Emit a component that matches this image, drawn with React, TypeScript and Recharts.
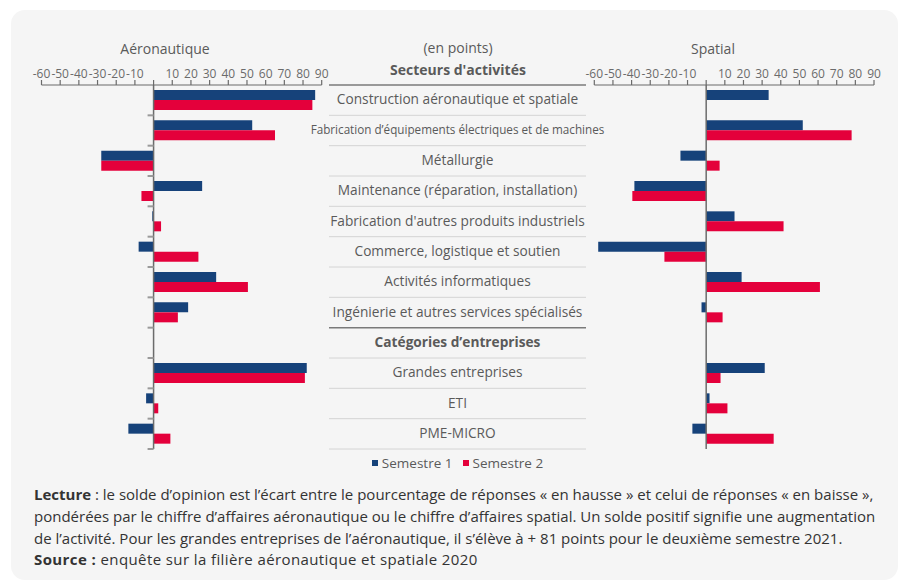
import React from 'react';
import { BarChart, Bar, XAxis, YAxis, ReferenceLine } from 'recharts';

const categories = [
  'Construction aéronautique et spatiale',
  'Fabrication d’équipements électriques et de machines',
  'Métallurgie',
  'Maintenance (réparation, installation)',
  "Fabrication d'autres produits industriels",
  'Commerce, logistique et soutien',
  'Activités informatiques',
  'Ingénierie et autres services spécialisés',
  'Catégories d’entreprises',
  'Grandes entreprises',
  'ETI',
  'PME-MICRO',
];
const headerRow = 'Catégories d’entreprises';

// soldes d'opinion (en points), null = ligne de titre
const aeroS1 = [86.5, 52.8, -28, 26, -0.7, -8, 33.5, 18.5, null, 82, -4, -13.5];
const aeroS2 = [85, 65, -28, -6.5, 4, 24, 50.5, 13, null, 81, 2.5, 9];
const spatialS1 = [33.5, 51.8, -13.8, -38.5, 15.2, -57.9, 19, -2.5, null, 31.4, 1.8, -7.4];
const spatialS2 = [0, 78, 7.2, -39.6, 41.5, -22.4, 61, 8.8, null, 7.7, 11.4, 36.2];

const xTicks = [-60, -50, -40, -30, -20, -10, 0, 10, 20, 30, 40, 50, 60, 70, 80, 90];
const xDomain = [-60, 90];

const series = [
  { key: 's1', name: 'Semestre 1', color: '#16427a' },
  { key: 's2', name: 'Semestre 2', color: '#e4003b' },
];

const FONT = '"Open Sans", "Noto Sans", sans-serif';
const TEXT = '#5a5a5a';
const AXIS = '#6b6b6b';

// geometry
const CH = 470;
const PLOT_TOP = 85;
const PLOT_BOTTOM = 449;
const X_AXIS_H = 30;
const BAND = (PLOT_BOTTOM - PLOT_TOP) / categories.length;
const COL_LEFT = 329;
const COL_RIGHT = 586;

const left = { x0: 41.5, x1: 321.7 };
const right = { offset: 560, x0: 594.3 - 560, x1: 874 - 560, w: 341 };
const zeroOf = (x0: number, x1: number) => x0 + ((0 - xDomain[0]) / (xDomain[1] - xDomain[0])) * (x1 - x0);

const build = (a: (number | null)[], b: (number | null)[]) =>
  categories.map((name, i) => ({ name, s1: a[i], s2: b[i] }));

const aeroData = build(aeroS1, aeroS2);
const spatialData = build(spatialS1, spatialS2);

const fmt = (v: number) => (v === 0 ? '' : String(v));

const BandMark = ({ y, zx }: { y: number; zx: number }) => (
  <line x1={zx - 6} x2={zx} y1={y + BAND / 2} y2={y + BAND / 2} stroke="#9a9a9a" strokeWidth={2} />
);

const CenterTick = (props: any) => {
  const { y, payload, index } = props;
  const label: string = payload.value;
  const isHeader = label === headerRow;
  const beforeHeader = categories[index + 1] === headerRow;
  const long = label.length > 45;
  const zx = zeroOf(left.x0, left.x1);
  return (
    <g>
      <BandMark y={y} zx={zx} />
      {index === 0 && (
        <line x1={COL_LEFT} x2={COL_RIGHT} y1={y - BAND / 2} y2={y - BAND / 2} stroke="#7a7a7a" strokeWidth={1.5} />
      )}
      <line
        x1={COL_LEFT}
        x2={COL_RIGHT}
        y1={y + BAND / 2}
        y2={y + BAND / 2}
        stroke={beforeHeader ? '#7a7a7a' : '#d4d4d4'}
        strokeWidth={beforeHeader ? 1.5 : 1}
      />
      <text
        x={(COL_LEFT + COL_RIGHT) / 2}
        y={y - 0.5}
        dy="0.35em"
        textAnchor="middle"
        fill={TEXT}
        fontFamily={FONT}
        fontSize={long ? 11.7 : 13.7}
        fontWeight={isHeader ? 700 : 400}
      >
        {label}
      </text>
    </g>
  );
};

const SpatialTick = (props: any) => {
  const { y } = props;
  return <BandMark y={y} zx={zeroOf(right.x0, right.x1)} />;
};

const xAxisProps = {
  type: 'number' as const,
  orientation: 'top' as const,
  domain: xDomain,
  ticks: xTicks,
  interval: 0 as const,
  height: X_AXIS_H,
  tickFormatter: fmt,
  tick: { fontSize: 12, fill: AXIS, fontFamily: FONT },
  axisLine: { stroke: AXIS, strokeWidth: 1.2 },
  tickLine: { stroke: AXIS, strokeWidth: 1.2 },
  tickSize: 5,
  tickMargin: 2,
};

const bars = () =>
  series.map((s) => (
    <Bar key={s.key} dataKey={s.key} name={s.name} fill={s.color} barSize={10} isAnimationActive={false} />
  ));

const absText = (x: number, y: number, text: string, size: number, bold = false) => (
  <div
    style={{
      position: 'absolute',
      left: x - 150,
      top: y - size * 0.7,
      width: 300,
      textAlign: 'center',
      fontSize: size,
      fontWeight: bold ? 700 : 400,
      color: TEXT,
      lineHeight: `${size * 1.4}px`,
      whiteSpace: 'nowrap',
    }}
  >
    {text}
  </div>
);

export default function App() {
  return (
    <div style={{ position: 'absolute', left: 0, top: 0, width: 901, height: 581, background: '#fff', fontFamily: FONT, overflow: 'hidden' }}>
      <div style={{ position: 'absolute', left: 11, top: 10, width: 887, height: 570, background: '#f5f5f5', borderRadius: 14 }} />

      {absText(165, 49, 'Aéronautique', 14)}
      {absText(713, 49, 'Spatial', 14)}
      {absText(458, 48, '(en points)', 14)}
      {absText(458, 70, "Secteurs d'activités", 14, true)}

      <div style={{ position: 'absolute', left: 0, top: 0 }}>
        <BarChart
          width={901}
          height={CH}
          data={aeroData}
          layout="vertical"
          barGap={0}
          margin={{ top: PLOT_TOP - X_AXIS_H, left: left.x0, right: 901 - COL_RIGHT, bottom: CH - PLOT_BOTTOM }}
        >
          <XAxis {...xAxisProps} />
          <YAxis
            type="category"
            dataKey="name"
            orientation="right"
            width={COL_RIGHT - left.x1}
            axisLine={false}
            tickLine={false}
            interval={0}
            tick={<CenterTick />}
          />
          {bars()}
          <ReferenceLine x={0} stroke={AXIS} strokeWidth={1.5} />
        </BarChart>
      </div>

      <div style={{ position: 'absolute', left: right.offset, top: 0 }}>
        <BarChart
          width={right.w}
          height={CH}
          data={spatialData}
          layout="vertical"
          barGap={0}
          margin={{ top: PLOT_TOP - X_AXIS_H, left: right.x0, right: right.w - right.x1, bottom: CH - PLOT_BOTTOM }}
        >
          <XAxis {...xAxisProps} />
          <YAxis type="category" dataKey="name" width={0} axisLine={false} tickLine={false} interval={0} tick={<SpatialTick />} />
          {bars()}
          <ReferenceLine x={0} stroke={AXIS} strokeWidth={1.5} />
        </BarChart>
      </div>

      <div
        style={{
          position: 'absolute',
          left: COL_LEFT,
          width: COL_RIGHT - COL_LEFT,
          top: 454,
          display: 'flex',
          justifyContent: 'center',
          alignItems: 'center',
          gap: 10,
          fontSize: 13.5,
          color: TEXT,
          lineHeight: '18px',
        }}
      >
        {series.map((s) => (
          <span key={s.key} style={{ display: 'flex', alignItems: 'center', gap: 4 }}>
            <span style={{ width: 6, height: 6, background: s.color, display: 'inline-block' }} />
            {s.name}
          </span>
        ))}
      </div>

      <div
        style={{
          position: 'absolute',
          left: 34,
          top: 484,
          fontSize: 15,
          lineHeight: '21.8px',
          color: '#333',
          whiteSpace: 'nowrap',
        }}
      >
        <b>Lecture</b> : le solde d’opinion est l’écart entre le pourcentage de réponses « en hausse » et celui de réponses « en baisse »,
        <br />
        pondérées par le chiffre d’affaires aéronautique ou le chiffre d’affaires spatial. Un solde positif signifie une augmentation
        <br />
        de l’activité. Pour les grandes entreprises de l’aéronautique, il s’élève à + 81 points pour le deuxième semestre 2021.
        <br />
        <span style={{ letterSpacing: 0.4 }}>
          <b>Source :</b> enquête sur la filière aéronautique et spatiale 2020
        </span>
      </div>
    </div>
  );
}
